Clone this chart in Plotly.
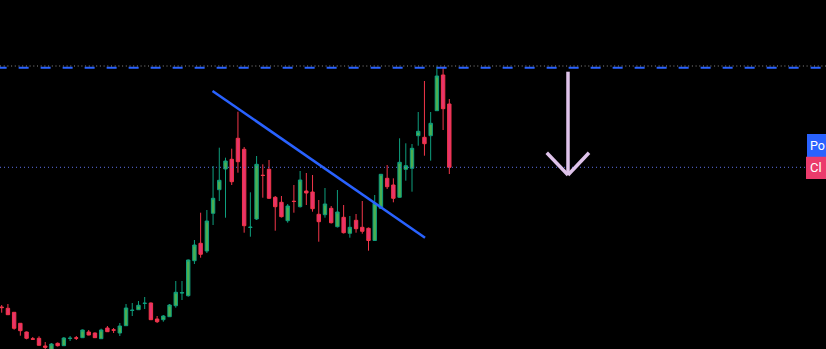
import plotly.graph_objects as go

# ---- data (price units; arbitrary scale) ----
idx = list(range(73))
opens = [42.0, 40.7, 36.7, 25.7, 17.0, 10.2, 10.7, 3.0, -2.0, 5.7, 3.3, 10.5, 11.2, 11.3, 17.0, 16.0,
         10.3, 21.0, 19.2, 16.0, 23.3, 38.5, 39.3, 45.5, 46.0, 30.0, 29.3, 32.3, 43.3, 56.0, 53.3,
         88.3, 105.7, 98.0, 135.7, 159.3, 180.0, 189.7, 210.7, 199.7, 121.5, 130.0, 173.8, 179.7,
         151.7, 146.7, 128.3, 147.8, 142.3, 158.0, 157.0, 134.7, 134.3, 140.7, 122.3, 131.7, 115.7,
         128.7, 121.7, 120.7, 108.5, 140.7, 170.7, 164.0, 151.7, 179.7, 180.7, 213.3, 211.7, 213.3,
         238.3, 274.0, 245.0]
highs = [44.0, 45.0, 37.0, 26.0, 17.5, 12.0, 12.7, 7.0, 6.0, 6.5, 12.0, 13.0, 13.0, 19.5, 19.0, 16.5,
         20.3, 23.0, 21.0, 26.0, 45.0, 46.0, 48.0, 52.0, 46.5, 33.0, 34.0, 45.0, 68.0, 68.0, 89.5,
         109.0, 136.3, 139.0, 183.0, 201.3, 191.3, 200.3, 237.3, 202.0, 156.7, 193.0, 184.7, 189.0,
         153.0, 153.0, 145.0, 164.0, 178.0, 176.0, 174.0, 149.0, 161.0, 143.0, 159.0, 144.0, 133.0,
         135.0, 148.0, 121.5, 154.0, 175.0, 184.0, 170.7, 210.7, 205.7, 205.0, 237.0, 268.0, 237.0,
         282.3, 282.3, 250.0]
lows = [36.3, 34.0, 19.3, 13.3, 9.7, 9.5, 3.5, 0.0, -3.0, 2.5, 3.0, 8.0, 9.0, 11.0, 13.7, 11.0,
        10.0, 17.0, 16.0, 13.0, 23.0, 33.0, 39.0, 40.0, 29.0, 26.0, 27.3, 32.0, 41.3, 49.0, 52.3,
        85.0, 91.3, 96.0, 124.0, 148.0, 131.3, 164.0, 176.3, 116.3, 112.3, 129.0, 151.3, 150.0,
        118.3, 131.5, 126.3, 136.3, 141.5, 144.0, 137.3, 107.3, 131.3, 125.5, 121.5, 115.5, 111.3,
        116.3, 115.3, 98.3, 108.0, 140.0, 160.0, 146.7, 151.0, 168.3, 157.3, 203.3, 193.3, 188.3,
        238.0, 219.0, 175.0]
closes = [41.4, 34.3, 20.7, 18.3, 10.7, 9.8, 3.7, 1.7, 5.0, 3.3, 11.0, 10.8, 10.8, 19.0, 14.0, 11.3,
          19.0, 17.3, 18.8, 23.0, 41.0, 38.8, 43.7, 45.8, 29.3, 27.3, 33.0, 44.0, 56.7, 56.3, 89.0,
          104.0, 94.7, 128.0, 150.7, 168.7, 188.0, 167.3, 187.3, 123.3, 121.8, 184.7, 173.5, 150.7,
          142.3, 132.3, 143.0, 147.5, 169.0, 156.0, 140.3, 127.3, 145.0, 126.3, 137.0, 116.3, 121.7,
          120.3, 117.7, 108.5, 145.7, 174.7, 162.3, 150.7, 186.7, 183.3, 200.7, 217.7, 205.3, 225.7,
          273.0, 240.3, 181.7]

# drawings
level_top_dotted = 283.0      # grey dotted level
level_top_dashed = 281.2      # blue dashed level
level_mid_dotted = 181.7      # blue dotted level
trend_x = [33.91, 68.09]
trend_y = [258.0, 111.3]
arrow_x = [91.09, 87.67, 94.47]   # shaft, left arm end, right arm end
arrow_y = [277.3, 174.0, 196.3]   # top of shaft, tip, arm ends
label_texts = ["Po", "Cl"]

X_RANGE = [-0.273, 132.59]
Y_RANGE = [0, 349]

fig = go.Figure()

fig.add_trace(go.Candlestick(
    x=idx, open=opens, high=highs, low=lows, close=closes,
    increasing=dict(fillcolor="#4caf50", line=dict(color="#0e9f7e", width=1)),
    decreasing=dict(fillcolor="#e8336b", line=dict(color="#f2364a", width=1)),
    whiskerwidth=0, hoverinfo="skip", showlegend=False,
))

# trend line
fig.add_trace(go.Scatter(
    x=trend_x, y=trend_y, mode="lines",
    line=dict(color="#2962ff", width=2.5), hoverinfo="skip", showlegend=False,
))

shapes = []
# horizontal levels
shapes.append(dict(type="line", xref="x", yref="y", x0=X_RANGE[0] - 0.54, x1=X_RANGE[1] + 2,
                   y0=level_top_dashed, y1=level_top_dashed,
                   line=dict(color="#2962ff", width=2, dash="10px,12px")))
shapes.append(dict(type="line", xref="paper", yref="y", x0=0, x1=1,
                   y0=level_top_dotted, y1=level_top_dotted,
                   line=dict(color="#8a8a8a", width=1, dash="1px,2.7px")))
shapes.append(dict(type="line", xref="paper", yref="y", x0=0, x1=1,
                   y0=level_mid_dotted, y1=level_mid_dotted,
                   line=dict(color="#5c70e6", width=1, dash="1px,3px")))

# arrow
ax, axl, axr = arrow_x
ay_top, ay_tip, ay_arm = arrow_y
arrow_col = "#dfc3ea"
shapes.append(dict(type="line", xref="x", yref="y", x0=ax, x1=ax, y0=ay_top, y1=ay_tip,
                   line=dict(color=arrow_col, width=3.5)))
shapes.append(dict(type="line", xref="x", yref="y", x0=axl, x1=ax, y0=ay_arm, y1=ay_tip,
                   line=dict(color=arrow_col, width=3.5)))
shapes.append(dict(type="line", xref="x", yref="y", x0=axr, x1=ax, y0=ay_arm, y1=ay_tip,
                   line=dict(color=arrow_col, width=3.5)))

# right-edge labels
W, H = 826, 349
shapes.append(dict(type="rect", xref="paper", yref="paper", x0=807 / W, x1=1.02,
                   y0=1 - 157 / H, y1=1 - 134 / H, fillcolor="#2962ff", line=dict(width=0),
                   layer="above"))
shapes.append(dict(type="rect", xref="paper", yref="paper", x0=806 / W, x1=1.02,
                   y0=1 - 179 / H, y1=1 - 156.7 / H, fillcolor="#eb3b6c", line=dict(width=0),
                   layer="above"))

annotations = [
    dict(xref="paper", yref="paper", x=807.5 / W, y=1 - 145.5 / H, xanchor="left", yanchor="middle",
         text=label_texts[0], showarrow=False, font=dict(color="white", size=12.5, family="Roboto")),
    dict(xref="paper", yref="paper", x=808 / W, y=1 - 168 / H, xanchor="left", yanchor="middle",
         text=label_texts[1], showarrow=False, font=dict(color="white", size=13, family="Roboto")),
]

fig.update_layout(
    width=W, height=H,
    margin=dict(l=0, r=0, t=0, b=0),
    paper_bgcolor="#000000", plot_bgcolor="#000000",
    xaxis=dict(range=X_RANGE, visible=False, rangeslider=dict(visible=False), fixedrange=True),
    yaxis=dict(range=Y_RANGE, visible=False, fixedrange=True),
    boxgap=0.22,
    shapes=shapes, annotations=annotations,
    showlegend=False, hovermode=False,
)

fig.write_html("out.html", config={"displayModeBar": False})
